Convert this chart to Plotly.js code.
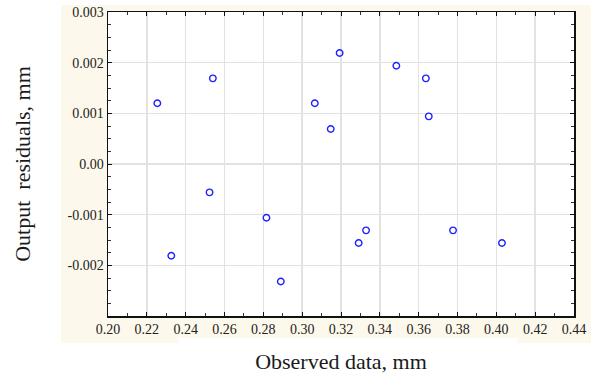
<!DOCTYPE html>
<html>
<head>
<meta charset="utf-8">
<script src="https://cdn.plot.ly/plotly-3.0.1.min.js"></script>
<style>html,body{margin:0;padding:0;background:#fff;}#chart{width:593px;height:377px;}</style>
</head>
<body>
<div id="chart"></div>
<script>
// Data
const observed = [0.2254, 0.2326, 0.2540, 0.2523, 0.2816, 0.2890, 0.3065, 0.3147, 0.3193, 0.3291, 0.3329, 0.3485, 0.3637, 0.3652, 0.3777, 0.4029];
const residuals = [0.00120, -0.00181, 0.00169, -0.00056, -0.00106, -0.00232, 0.00120, 0.00069, 0.00219, -0.00156, -0.00131, 0.00194, 0.00169, 0.00094, -0.00131, -0.00156];
const yTickVals = [-0.003, -0.002, -0.001, 0, 0.001, 0.002, 0.003];
const yTickText = ['', '-0.002', '-0.001', '0.00', '0.001', '0.002', '0.003'];
const xTickVals = [0.20, 0.22, 0.24, 0.26, 0.28, 0.30, 0.32, 0.34, 0.36, 0.38, 0.40, 0.42, 0.44];
const xTickText = ['0.20', '0.22', '0.24', '0.26', '0.28', '0.30', '0.32', '0.34', '0.36', '0.38', '0.40', '0.42', '0.44'];

const L = 108, T = 12, W = 466, H = 304;
const px = v => (v - L) / W;
const py = v => (T + H - v) / H;
const cream = '#fdf8ec';

const trace = {
  x: observed, y: residuals, type: 'scatter', mode: 'markers',
  marker: {symbol: 'circle-open', size: 6.5, color: '#1f1fff', line: {width: 1.4, color: '#1f1fff'}},
  hoverinfo: 'skip'
};

const tickFont = {family: "'Liberation Serif', serif", size: 14, color: '#222'};
const titleFont = {family: "'Liberation Serif', serif", size: 22, color: '#1a1a1a'};

const layout = {
  width: 593, height: 377,
  margin: {l: L, r: 593 - L - W, t: T, b: 377 - T - H, pad: 0},
  paper_bgcolor: '#ffffff', plot_bgcolor: 'rgba(0,0,0,0)',
  showlegend: false,
  xaxis: {
    range: [0.20, 0.44], tickmode: 'array', tickvals: xTickVals, ticktext: xTickText,
    showgrid: true, gridcolor: '#e2e2e2', gridwidth: 1.5,
    zeroline: false, showline: true, linecolor: '#111', linewidth: 1.5, mirror: 'ticks',
    ticks: 'inside', ticklen: 4, tickcolor: '#111', tickwidth: 1,
    minor: {tickmode: 'linear', tick0: 0.2, dtick: 0.01, ticks: 'inside', ticklen: 3, tickcolor: '#333', showgrid: false},
    tickfont: tickFont,
    title: {text: 'Observed data, mm', font: titleFont, standoff: 17}
  },
  yaxis: {
    range: [-0.003, 0.003], tickmode: 'array', tickvals: yTickVals, ticktext: yTickText,
    showgrid: true, gridcolor: '#e2e2e2', gridwidth: 1.5,
    zeroline: false, showline: true, linecolor: '#111', linewidth: 1.5, mirror: 'ticks',
    ticks: 'inside', ticklen: 4, tickcolor: '#111', tickwidth: 1,
    minor: {tickmode: 'linear', tick0: -0.003, dtick: 0.00025, ticks: 'inside', ticklen: 3, tickcolor: '#333', showgrid: false},
    tickfont: tickFont,
    title: {text: 'Output  residuals, mm', font: titleFont, standoff: 31}
  },
  shapes: [
    {type: 'rect', xref: 'paper', yref: 'paper', layer: 'below', x0: px(61), x1: px(591), y0: py(5), y1: py(343), fillcolor: cream, line: {width: 0}},
    {type: 'rect', xref: 'paper', yref: 'paper', layer: 'below', x0: 0, x1: 1, y0: 0, y1: 1, fillcolor: '#ffffff', line: {width: 0}},
    {type: 'rect', xref: 'paper', yref: 'paper', layer: 'below', x0: px(179), x1: px(517), y0: py(346), y1: py(338), fillcolor: '#ffffff', line: {width: 0}}
  ]
};

Plotly.newPlot('chart', [trace], layout, {staticPlot: true, displayModeBar: false});
</script>
</body>
</html>
